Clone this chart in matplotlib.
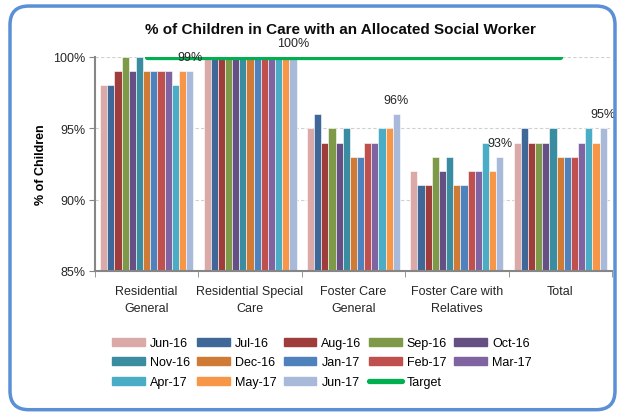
import numpy as np
import matplotlib.pyplot as plt
from matplotlib.patches import Rectangle, FancyBboxPatch
from matplotlib.lines import Line2D

plt.rcParams['font.family'] = ['Liberation Sans', 'DejaVu Sans']

categories = ['Residential\nGeneral', 'Residential Special\nCare', 'Foster Care\nGeneral',
              'Foster Care with\nRelatives', 'Total']
months = ['Jun-16', 'Jul-16', 'Aug-16', 'Sep-16', 'Oct-16', 'Nov-16', 'Dec-16',
          'Jan-17', 'Feb-17', 'Mar-17', 'Apr-17', 'May-17', 'Jun-17']

# one list per category, values in month order
res_general = [98, 98, 99, 100, 99, 100, 99, 99, 99, 99, 98, 99, 99]
res_special = [100, 100, 100, 100, 100, 100, 100, 100, 100, 100, 100, 100, 100]
foster_general = [95, 96, 94, 95, 94, 95, 93, 93, 94, 94, 95, 95, 96]
foster_relatives = [92, 91, 91, 93, 92, 93, 91, 91, 92, 92, 94, 92, 93]
total = [94, 95, 94, 94, 94, 95, 93, 93, 93, 94, 95, 94, 95]
target = [100, 100, 100, 100, 100]

colors = ['#DCA9A9', '#3F6797', '#9E3D3B', '#7E9A48', '#664F83', '#3A8DA1', '#CF7B36',
          '#4F81BD', '#C0504D', '#8064A2', '#4BACC6', '#F79646', '#A9B9D9']

data = np.array([res_general, res_special, foster_general, foster_relatives, total])

fig = plt.figure(figsize=(6.25, 4.14), dpi=100)
ax = fig.add_axes([0.152, 0.343, 0.827, 0.517])

# outer rounded frame
frame = FancyBboxPatch((0.016, 0.008), 0.968, 0.975, boxstyle='round,pad=0,rounding_size=0.03',
                       transform=fig.transFigure, fill=False, edgecolor='#5B8FD6', linewidth=2.5,
                       mutation_aspect=625 / 414)
fig.patches.append(frame)

x = np.arange(len(categories))
n = len(months)
group_w = 0.9
bw = group_w / n
for i in range(n):
    xs = x - group_w / 2 + bw * (i + 0.5)
    ax.bar(xs, data[:, i], bw, bottom=0, color=colors[i], edgecolor='white', linewidth=0.4,
           label=months[i], zorder=2)

ax.plot(x, target, color='#00B050', linewidth=3.8, solid_capstyle='round', zorder=3, label='Target')

# labels on the last month
last = data[:, -1]
for xi, v in zip(x, last):
    ax.text(xi + group_w / 2 - bw / 2, v + 1.0, '%d%%' % v, ha='center', va='center',
            fontsize=9, color='#262626', clip_on=False, zorder=5)

ax.set_ylim(85, 100)
ax.set_xlim(-0.5, len(categories) - 0.5)
ax.set_yticks([85, 90, 95, 100])
ax.set_yticklabels(['85%', '90%', '95%', '100%'], fontsize=9, color='#262626')
ax.set_xticks(x)
ax.set_xticklabels(categories, fontsize=9, color='#262626', linespacing=1.6)
ax.set_xticks(np.arange(-0.5, len(categories)), minor=True)
ax.tick_params(axis='x', which='major', length=0, pad=10)
ax.tick_params(axis='x', which='minor', length=4, color='#868686')
ax.tick_params(axis='y', length=4, color='#868686', pad=3)
ax.yaxis.grid(True, color='#D0D0D0', linestyle=(0, (3, 2)), linewidth=0.8, zorder=0)
ax.set_axisbelow(True)
for s in ['top', 'right']:
    ax.spines[s].set_visible(False)
for s in ['left', 'bottom']:
    ax.spines[s].set_color('#868686')
    ax.spines[s].set_linewidth(1.5)

ax.set_ylabel('% of Children', fontsize=9, fontweight='bold', labelpad=4)
fig.text(0.545, 0.928, '% of Children in Care with an Allocated Social Worker', ha='center',
         va='center', fontsize=11, fontweight='bold', color='#0D0D0D')

handles = [Rectangle((0, 0), 1, 1, color=c) for c in colors]
handles.append(Line2D([0], [0], color='#00B050', linewidth=3.8, solid_capstyle='round'))
labels = months + ['Target']
# legend fills row by row in the reference
order = [j + 5 * r for j in range(5) for r in range(3) if j + 5 * r < len(labels)]
fig.legend([handles[k] for k in order], [labels[k] for k in order], loc='center',
           bbox_to_anchor=(0.515, 0.122), ncol=5, frameon=False, fontsize=9, handlelength=2.6,
           handleheight=0.6, handletextpad=0.4, columnspacing=0.6, labelspacing=0.6)

fig.savefig('out.png', dpi=100)
